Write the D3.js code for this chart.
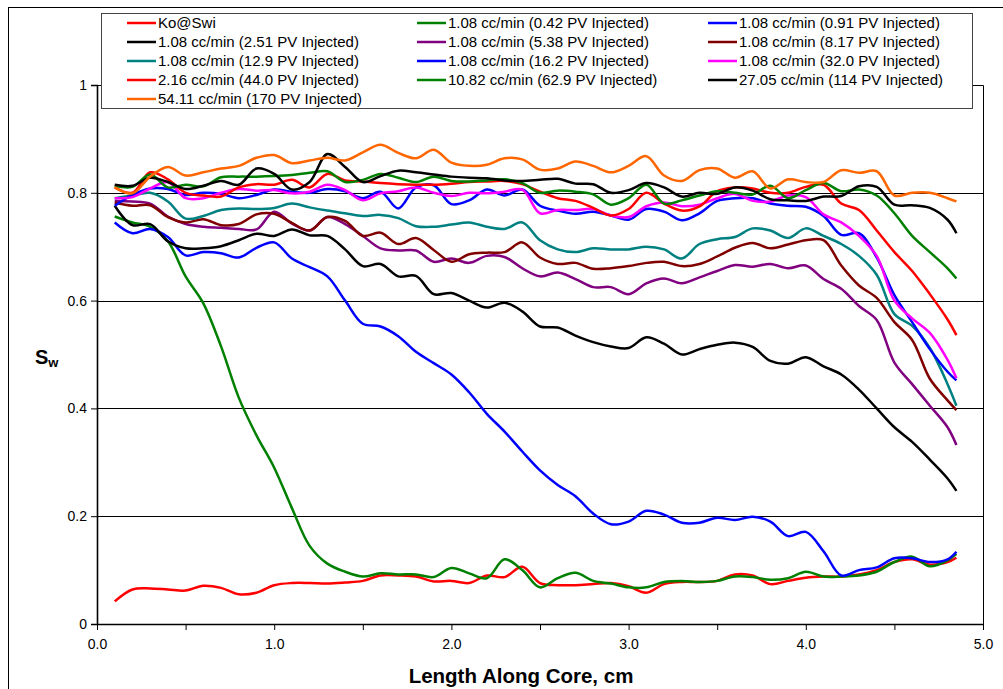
<!DOCTYPE html>
<html>
<head>
<meta charset="utf-8">
<script src="https://cdn.jsdelivr.net/npm/d3@7"></script>
<style>
  html, body { margin: 0; padding: 0; background: #fff; }
  svg { display: block; }
  text { font-family: "Liberation Sans", Arial, sans-serif; }
</style>
</head>
<body>
<svg id="chart" width="1003" height="689"></svg>
<script>
// Position along the core (cm) where saturation was sampled
const positions = [0.1,0.2,0.3,0.4,0.5,0.6,0.7,0.8,0.9,1.0,1.1,1.2,1.3,1.4,1.5,1.6,1.7,1.8,1.9,2.0,
  2.1,2.2,2.3,2.4,2.5,2.6,2.7,2.8,2.9,3.0,3.1,3.2,3.3,3.4,3.5,3.6,3.7,3.8,3.9,4.0,
  4.1,4.2,4.3,4.4,4.5,4.6,4.7,4.8,4.85];

// Water saturation profiles
const koSwi = [0.042,0.064,0.066,0.064,0.062,0.071,0.067,0.055,0.058,0.072,
  0.076,0.076,0.075,0.077,0.080,0.090,0.090,0.088,0.079,0.080,
  0.076,0.090,0.087,0.106,0.076,0.072,0.072,0.074,0.076,0.070,
  0.058,0.074,0.078,0.078,0.080,0.092,0.090,0.074,0.080,0.086,
  0.088,0.088,0.092,0.100,0.115,0.120,0.110,0.115,0.123];
const pv042 = [0.756,0.745,0.737,0.71,0.645,0.595,0.515,0.42,0.35,0.29,
  0.215,0.145,0.112,0.097,0.088,0.094,0.092,0.092,0.087,0.104,
  0.094,0.085,0.12,0.10,0.068,0.085,0.095,0.08,0.075,0.068,
  0.068,0.078,0.08,0.078,0.08,0.088,0.087,0.082,0.085,0.097,
  0.088,0.088,0.09,0.097,0.115,0.125,0.107,0.118,0.13];
const pv091 = [0.745,0.725,0.733,0.718,0.684,0.69,0.688,0.68,0.698,0.708,
  0.678,0.662,0.645,0.60,0.557,0.552,0.534,0.505,0.484,0.463,
  0.43,0.39,0.357,0.32,0.285,0.258,0.237,0.205,0.185,0.19,
  0.21,0.203,0.188,0.188,0.197,0.193,0.199,0.19,0.163,0.171,
  0.135,0.09,0.10,0.105,0.122,0.122,0.115,0.12,0.134];
const pv251 = [0.776,0.74,0.742,0.71,0.697,0.697,0.701,0.712,0.724,0.72,
  0.732,0.721,0.72,0.695,0.664,0.668,0.645,0.646,0.612,0.614,
  0.600,0.587,0.596,0.58,0.552,0.55,0.535,0.523,0.515,0.512,
  0.532,0.52,0.50,0.51,0.518,0.522,0.514,0.488,0.483,0.495,
  0.478,0.463,0.435,0.40,0.365,0.338,0.305,0.27,0.247];
const pv538 = [0.785,0.784,0.78,0.756,0.742,0.737,0.735,0.733,0.732,0.765,
  0.743,0.73,0.755,0.742,0.72,0.697,0.693,0.693,0.672,0.678,
  0.670,0.683,0.681,0.66,0.645,0.652,0.64,0.625,0.625,0.612,
  0.632,0.641,0.632,0.643,0.655,0.666,0.663,0.668,0.66,0.665,
  0.64,0.622,0.59,0.564,0.485,0.445,0.405,0.365,0.332];
const pv817 = [0.782,0.776,0.777,0.755,0.745,0.751,0.74,0.742,0.76,0.761,
  0.744,0.73,0.755,0.748,0.72,0.726,0.705,0.716,0.694,0.672,
  0.686,0.689,0.69,0.708,0.68,0.668,0.67,0.659,0.66,0.664,
  0.67,0.672,0.664,0.668,0.682,0.698,0.707,0.697,0.704,0.712,
  0.712,0.665,0.628,0.605,0.56,0.527,0.455,0.415,0.397];
const pv129 = [0.79,0.795,0.80,0.784,0.752,0.757,0.768,0.771,0.770,0.772,
  0.78,0.773,0.767,0.762,0.757,0.759,0.753,0.738,0.737,0.741,
  0.745,0.737,0.733,0.745,0.712,0.695,0.69,0.697,0.695,0.695,
  0.70,0.695,0.678,0.705,0.714,0.718,0.734,0.73,0.716,0.734,
  0.72,0.705,0.683,0.648,0.575,0.553,0.512,0.445,0.405];
const pv162 = [0.776,0.796,0.808,0.807,0.796,0.80,0.798,0.79,0.796,0.806,
  0.802,0.80,0.807,0.803,0.79,0.802,0.771,0.81,0.814,0.779,
  0.786,0.806,0.795,0.806,0.776,0.767,0.761,0.765,0.758,0.75,
  0.77,0.765,0.749,0.762,0.785,0.79,0.79,0.78,0.776,0.774,
  0.757,0.722,0.725,0.68,0.61,0.56,0.51,0.468,0.452];
const pv320 = [0.79,0.792,0.808,0.82,0.79,0.79,0.80,0.807,0.804,0.805,
  0.799,0.802,0.815,0.805,0.786,0.799,0.803,0.81,0.80,0.794,
  0.80,0.799,0.802,0.806,0.762,0.768,0.768,0.770,0.758,0.755,
  0.775,0.782,0.775,0.778,0.79,0.798,0.785,0.784,0.795,0.792,
  0.76,0.745,0.72,0.683,0.60,0.567,0.54,0.49,0.456];
const pv440 = [0.81,0.80,0.838,0.825,0.80,0.795,0.793,0.81,0.816,0.815,
  0.824,0.81,0.835,0.823,0.821,0.818,0.816,0.815,0.815,0.817,
  0.82,0.821,0.822,0.816,0.802,0.79,0.785,0.772,0.758,0.77,
  0.80,0.78,0.767,0.775,0.803,0.81,0.808,0.80,0.80,0.811,
  0.815,0.78,0.768,0.73,0.69,0.655,0.612,0.565,0.536];
const pv629 = [0.813,0.811,0.834,0.81,0.815,0.812,0.829,0.830,0.830,0.831,
  0.833,0.837,0.84,0.82,0.824,0.835,0.828,0.82,0.83,0.822,
  0.821,0.823,0.825,0.818,0.80,0.804,0.802,0.797,0.778,0.79,
  0.815,0.78,0.786,0.795,0.803,0.80,0.797,0.813,0.79,0.805,
  0.818,0.803,0.806,0.795,0.762,0.72,0.69,0.66,0.641];
const pv114 = [0.815,0.813,0.828,0.82,0.807,0.813,0.822,0.815,0.845,0.835,
  0.806,0.82,0.872,0.848,0.82,0.831,0.841,0.838,0.834,0.83,
  0.828,0.827,0.823,0.822,0.824,0.826,0.817,0.816,0.80,0.805,
  0.818,0.81,0.793,0.80,0.798,0.81,0.804,0.788,0.786,0.785,
  0.793,0.794,0.812,0.811,0.778,0.777,0.772,0.75,0.725];
const pv170 = [0.81,0.799,0.83,0.848,0.832,0.838,0.845,0.85,0.865,0.87,
  0.855,0.86,0.865,0.86,0.875,0.889,0.874,0.864,0.88,0.856,
  0.85,0.852,0.864,0.862,0.843,0.845,0.858,0.85,0.838,0.85,
  0.868,0.832,0.822,0.842,0.845,0.828,0.84,0.808,0.825,0.82,
  0.82,0.842,0.837,0.84,0.795,0.80,0.80,0.79,0.784];

const seriesNames = ["Ko@Swi",
  "1.08 cc/min (0.42 PV Injected)", "1.08 cc/min (0.91 PV Injected)",
  "1.08 cc/min (2.51 PV Injected)", "1.08 cc/min (5.38 PV Injected)",
  "1.08 cc/min (8.17 PV Injected)", "1.08 cc/min (12.9 PV Injected)",
  "1.08 cc/min (16.2 PV Injected)", "1.08 cc/min (32.0 PV Injected)",
  "2.16 cc/min (44.0 PV Injected)", "10.82 cc/min (62.9 PV Injected)",
  "27.05 cc/min (114 PV Injected)", "54.11 cc/min (170 PV Injected)"];
const seriesColors = ["#ff0000","#008000","#0000ff","#000000","#800080","#800000",
  "#008080","#0000ff","#ff00ff","#ff0000","#008000","#000000","#ff6600"];
const seriesValues = [koSwi, pv042, pv091, pv251, pv538, pv817, pv129,
  pv162, pv320, pv440, pv629, pv114, pv170];

const xTicks = [0, 1, 2, 3, 4, 5];
const yTicks = [0, 0.2, 0.4, 0.6, 0.8, 1];

const svg = d3.select("#chart");

// outer chart frame
svg.append("rect").attr("x", 8.5).attr("y", 7.5).attr("width", 1100).attr("height", 800)
  .attr("fill", "none").attr("stroke", "#000").attr("stroke-width", 1);

const x = d3.scaleLinear().domain([0, 5]).range([97, 983]);
const y = d3.scaleLinear().domain([0, 1]).range([624, 85]);

// horizontal gridlines
svg.append("g").selectAll("line").data([0.2, 0.4, 0.6, 0.8]).join("line")
  .attr("x1", x(0)).attr("x2", x(5))
  .attr("y1", d => Math.round(y(d)) + 0.5).attr("y2", d => Math.round(y(d)) + 0.5)
  .attr("stroke", "#000").attr("stroke-width", 1);

// plot frame top and right
svg.append("path")
  .attr("d", `M${x(0)},${Math.round(y(1)) + 0.5}H${x(5) + 0.5}V${y(0)}`)
  .attr("fill", "none").attr("stroke", "#000").attr("stroke-width", 1);

// y axis
const yAxis = d3.axisLeft(y).tickValues(yTicks).tickSize(6).tickPadding(4)
  .tickFormat(d => d === 0 || d === 1 ? d3.format("d")(d) : d3.format(".1f")(d));
const gy = svg.append("g").attr("transform", `translate(${x(0)},0)`).call(yAxis);
gy.select(".domain").attr("stroke-width", 1.6);
gy.selectAll("text").attr("font-size", 14).attr("fill", "#000")
  .attr("font-family", "'Liberation Sans', Arial, sans-serif");

// x axis with minor ticks at every 0.5
const xAxis = d3.axisBottom(x).tickValues(d3.range(0, 5.01, 0.5)).tickSize(6).tickSizeOuter(0)
  .tickPadding(9).tickFormat(d => xTicks.includes(d) ? d3.format(".1f")(d) : "");
const gx = svg.append("g").attr("transform", `translate(0,${y(0)})`).call(xAxis);
gx.select(".domain").attr("stroke-width", 1.6);
gx.selectAll("text").attr("font-size", 14).attr("fill", "#000")
  .attr("font-family", "'Liberation Sans', Arial, sans-serif");

// axis titles
svg.append("text").attr("x", 521).attr("y", 683).attr("text-anchor", "middle")
  .attr("font-size", 20.5).attr("font-weight", "bold").text("Length Along Core, cm");
const yt = svg.append("text").attr("x", 35).attr("y", 364)
  .attr("font-size", 20).attr("font-weight", "bold");
yt.append("tspan").text("S");
yt.append("tspan").attr("font-size", 13).attr("dy", 3).text("w");

// saturation profiles
const line = d3.line()
  .x((d, i) => x(positions[i]))
  .y(d => y(d))
  .curve(d3.curveCatmullRom.alpha(0.5));

svg.append("g").selectAll("path").data(seriesValues).join("path")
  .attr("d", d => line(d))
  .attr("fill", "none")
  .attr("stroke", (d, i) => seriesColors[i])
  .attr("stroke-width", 2.5)
  .attr("stroke-linejoin", "round");

// legend
const legend = svg.append("g");
legend.append("rect").attr("x", 101.5).attr("y", 13.5).attr("width", 871).attr("height", 95)
  .attr("fill", "#fff").attr("stroke", "#444").attr("stroke-width", 1);
const colX = [127, 417, 708];
const rowY0 = 23, rowStep = 19;
const items = legend.selectAll("g.item").data(seriesNames).join("g").attr("class", "item")
  .attr("transform", (d, i) => `translate(${colX[i % 3]},${rowY0 + Math.floor(i / 3) * rowStep})`);
items.append("line").attr("x1", 0).attr("x2", 29).attr("y1", 0).attr("y2", 0)
  .attr("stroke", (d, i) => seriesColors[i]).attr("stroke-width", 2.5);
items.append("text").attr("x", 31).attr("y", 0).attr("dy", "0.35em")
  .attr("font-size", 15).attr("fill", "#000").text(d => d);
</script>
</body>
</html>
